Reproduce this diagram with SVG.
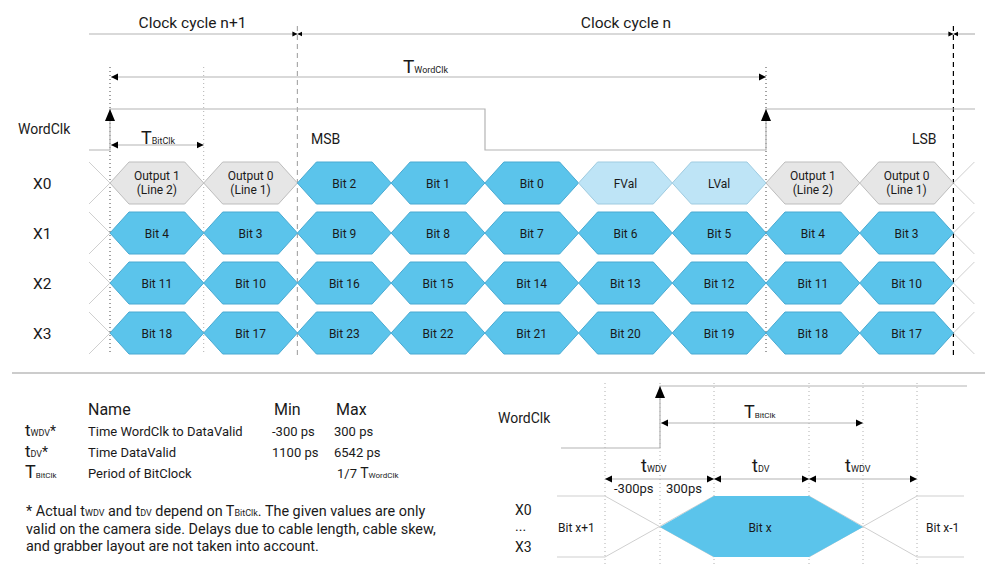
<svg xmlns="http://www.w3.org/2000/svg" width="1000" height="580" viewBox="0 0 1000 580">
<style>
text{font-family:Roboto,"Liberation Sans",sans-serif;fill:#1a1a1a}
.t15{font-size:15.5px}
.t14{font-size:14px}
.t13{font-size:13px}
.fn{font-size:14.4px}
.hl{font-size:12px;text-anchor:middle}
.mid{text-anchor:middle}
.sig{fill:none;stroke:#b4b4b4;stroke-width:1.2}
.dim{fill:none;stroke:#b4b4b4;stroke-width:1.2}
.blue{fill:#5bc4eb;stroke:#4aaad2;stroke-width:1}
.lblue{fill:#bee4f6;stroke:#9fcbe0;stroke-width:1}
.gray{fill:#e6e6e6;stroke:#bdbdbd;stroke-width:1}
.dot{fill:none;stroke:#444;stroke-width:1;stroke-dasharray:1 3}
.dotg{fill:none;stroke:#b0b0b0;stroke-width:1;stroke-dasharray:1 3}
.dash{fill:none;stroke:#000;stroke-width:1.2;stroke-dasharray:5 4}
.dashg{fill:none;stroke:#aaa;stroke-width:1.2;stroke-dasharray:5 4}
.x{stroke:#cfcfcf;fill:none;stroke-width:1}
.ar{marker-start:url(#a);marker-end:url(#a)}
</style>
<defs>
<marker id="a" viewBox="0 0 10 10" refX="10" refY="5" markerWidth="7" markerHeight="8" markerUnits="userSpaceOnUse" orient="auto-start-reverse"><path d="M0,0L10,5L0,10z" fill="#000"/></marker>
<marker id="s" viewBox="0 0 10 10" refX="10" refY="5" markerWidth="5" markerHeight="6" markerUnits="userSpaceOnUse" orient="auto-start-reverse"><path d="M0,0L10,5L0,10z" fill="#000"/></marker>
<path id="hex" d="M-46.86,0L-27.86,-21H27.86L46.86,0L27.86,21H-27.86Z"/>
</defs>

<!-- header -->
<g id="header">
<text class="t15 mid" x="192.5" y="28">Clock cycle n+1</text>
<text class="t15 mid" x="626" y="28">Clock cycle n</text>
<text x="403" y="73"><tspan font-size="19">T</tspan><tspan font-size="9">WordClk</tspan></text>
<text class="t14" x="18" y="134">WordClk</text>
<text x="141" y="144"><tspan font-size="18">T</tspan><tspan font-size="9">BitClk</tspan></text>
<text class="t14" x="311" y="144">MSB</text>
<text class="t14" x="912" y="144">LSB</text>
<text class="t15" x="33" y="189">X0</text>
<text class="t15" x="33" y="239">X1</text>
<text class="t15" x="33" y="289">X2</text>
<text class="t15" x="33" y="339">X3</text>
</g>

<!-- connectors -->
<g id="connectors">
<line x1="89" y1="34" x2="297.4" y2="34" class="dim" marker-end="url(#s)"/>
<line x1="297.4" y1="34" x2="953.4" y2="34" class="dim" marker-start="url(#s)" marker-end="url(#s)"/>
<line x1="953.4" y1="34" x2="975" y2="34" class="dim" marker-start="url(#s)"/>
<line x1="110" y1="67" x2="110" y2="355" class="dot"/>
<line x1="203.7" y1="67" x2="203.7" y2="355" class="dotg"/>
<line x1="297.4" y1="26" x2="297.4" y2="355" class="dashg"/>
<line x1="766" y1="67" x2="766" y2="355" class="dot"/>
<line x1="953.4" y1="26" x2="953.4" y2="355" class="dash"/>
<line x1="111" y1="77" x2="766" y2="77" class="dim ar"/>
<path d="M89,150H110V109H485V150H766V109H975" class="sig"/>
<path d="M110,109L105,121H115Z M766,109L761,121H771Z" fill="#000"/>
<line x1="111" y1="145" x2="203.7" y2="145" class="dim ar"/>
<path class="x" d="M89,162L110,183M89,204L110,183M953.4,183L974.4,162M953.4,183L974.4,204
M89,212L110,233M89,254L110,233M953.4,233L974.4,212M953.4,233L974.4,254
M89,262L110,283M89,304L110,283M953.4,283L974.4,262M953.4,283L974.4,304
M89,312L110,333M89,354L110,333M953.4,333L974.4,312M953.4,333L974.4,354"/>
<line x1="12" y1="373" x2="985" y2="373" stroke="#9a9a9a" stroke-width="1.2"/>
</g>

<!-- row X0 -->
<g id="x0-1"><use href="#hex" x="156.86" y="183" class="gray"/><text class="hl" x="156.86" y="180">Output 1</text><text class="hl" x="156.86" y="194">(Line 2)</text></g>
<g id="x0-2"><use href="#hex" x="250.57" y="183" class="gray"/><text class="hl" x="250.57" y="180">Output 0</text><text class="hl" x="250.57" y="194">(Line 1)</text></g>
<g id="x0-3"><use href="#hex" x="344.29" y="183" class="blue"/><text class="hl" x="344.29" y="187.5">Bit 2</text></g>
<g id="x0-4"><use href="#hex" x="438" y="183" class="blue"/><text class="hl" x="438" y="187.5">Bit 1</text></g>
<g id="x0-5"><use href="#hex" x="531.71" y="183" class="blue"/><text class="hl" x="531.71" y="187.5">Bit 0</text></g>
<g id="x0-6"><use href="#hex" x="625.43" y="183" class="lblue"/><text class="hl" x="625.43" y="187.5">FVal</text></g>
<g id="x0-7"><use href="#hex" x="719.14" y="183" class="lblue"/><text class="hl" x="719.14" y="187.5">LVal</text></g>
<g id="x0-8"><use href="#hex" x="812.86" y="183" class="gray"/><text class="hl" x="812.86" y="180">Output 1</text><text class="hl" x="812.86" y="194">(Line 2)</text></g>
<g id="x0-9"><use href="#hex" x="906.57" y="183" class="gray"/><text class="hl" x="906.57" y="180">Output 0</text><text class="hl" x="906.57" y="194">(Line 1)</text></g>

<!-- row X1 -->
<g id="x1-1"><use href="#hex" x="156.86" y="233" class="blue"/><text class="hl" x="156.86" y="237.5">Bit 4</text></g>
<g id="x1-2"><use href="#hex" x="250.57" y="233" class="blue"/><text class="hl" x="250.57" y="237.5">Bit 3</text></g>
<g id="x1-3"><use href="#hex" x="344.29" y="233" class="blue"/><text class="hl" x="344.29" y="237.5">Bit 9</text></g>
<g id="x1-4"><use href="#hex" x="438" y="233" class="blue"/><text class="hl" x="438" y="237.5">Bit 8</text></g>
<g id="x1-5"><use href="#hex" x="531.71" y="233" class="blue"/><text class="hl" x="531.71" y="237.5">Bit 7</text></g>
<g id="x1-6"><use href="#hex" x="625.43" y="233" class="blue"/><text class="hl" x="625.43" y="237.5">Bit 6</text></g>
<g id="x1-7"><use href="#hex" x="719.14" y="233" class="blue"/><text class="hl" x="719.14" y="237.5">Bit 5</text></g>
<g id="x1-8"><use href="#hex" x="812.86" y="233" class="blue"/><text class="hl" x="812.86" y="237.5">Bit 4</text></g>
<g id="x1-9"><use href="#hex" x="906.57" y="233" class="blue"/><text class="hl" x="906.57" y="237.5">Bit 3</text></g>

<!-- row X2 -->
<g id="x2-1"><use href="#hex" x="156.86" y="283" class="blue"/><text class="hl" x="156.86" y="287.5">Bit 11</text></g>
<g id="x2-2"><use href="#hex" x="250.57" y="283" class="blue"/><text class="hl" x="250.57" y="287.5">Bit 10</text></g>
<g id="x2-3"><use href="#hex" x="344.29" y="283" class="blue"/><text class="hl" x="344.29" y="287.5">Bit 16</text></g>
<g id="x2-4"><use href="#hex" x="438" y="283" class="blue"/><text class="hl" x="438" y="287.5">Bit 15</text></g>
<g id="x2-5"><use href="#hex" x="531.71" y="283" class="blue"/><text class="hl" x="531.71" y="287.5">Bit 14</text></g>
<g id="x2-6"><use href="#hex" x="625.43" y="283" class="blue"/><text class="hl" x="625.43" y="287.5">Bit 13</text></g>
<g id="x2-7"><use href="#hex" x="719.14" y="283" class="blue"/><text class="hl" x="719.14" y="287.5">Bit 12</text></g>
<g id="x2-8"><use href="#hex" x="812.86" y="283" class="blue"/><text class="hl" x="812.86" y="287.5">Bit 11</text></g>
<g id="x2-9"><use href="#hex" x="906.57" y="283" class="blue"/><text class="hl" x="906.57" y="287.5">Bit 10</text></g>

<!-- row X3 -->
<g id="x3-1"><use href="#hex" x="156.86" y="333" class="blue"/><text class="hl" x="156.86" y="337.5">Bit 18</text></g>
<g id="x3-2"><use href="#hex" x="250.57" y="333" class="blue"/><text class="hl" x="250.57" y="337.5">Bit 17</text></g>
<g id="x3-3"><use href="#hex" x="344.29" y="333" class="blue"/><text class="hl" x="344.29" y="337.5">Bit 23</text></g>
<g id="x3-4"><use href="#hex" x="438" y="333" class="blue"/><text class="hl" x="438" y="337.5">Bit 22</text></g>
<g id="x3-5"><use href="#hex" x="531.71" y="333" class="blue"/><text class="hl" x="531.71" y="337.5">Bit 21</text></g>
<g id="x3-6"><use href="#hex" x="625.43" y="333" class="blue"/><text class="hl" x="625.43" y="337.5">Bit 20</text></g>
<g id="x3-7"><use href="#hex" x="719.14" y="333" class="blue"/><text class="hl" x="719.14" y="337.5">Bit 19</text></g>
<g id="x3-8"><use href="#hex" x="812.86" y="333" class="blue"/><text class="hl" x="812.86" y="337.5">Bit 18</text></g>
<g id="x3-9"><use href="#hex" x="906.57" y="333" class="blue"/><text class="hl" x="906.57" y="337.5">Bit 17</text></g>

<!-- table -->
<g id="table">
<text x="88" y="415" font-size="16">Name</text>
<text x="274" y="415" font-size="16">Min</text>
<text x="336" y="415" font-size="16">Max</text>
<text x="25" y="436"><tspan font-size="17">t</tspan><tspan font-size="9">WDV</tspan><tspan font-size="14">*</tspan></text>
<text class="t13" x="88" y="436">Time WordClk to DataValid</text>
<text class="t13" x="272" y="436">-300 ps</text>
<text class="t13" x="334" y="436">300 ps</text>
<text x="25" y="457"><tspan font-size="17">t</tspan><tspan font-size="9">DV</tspan><tspan font-size="14">*</tspan></text>
<text class="t13" x="88" y="457">Time DataValid</text>
<text class="t13" x="272" y="457">1100 ps</text>
<text class="t13" x="334" y="457">6542 ps</text>
<text x="25" y="478"><tspan font-size="18">T</tspan><tspan font-size="8">BitClk</tspan></text>
<text class="t13" x="88" y="478">Period of BitClock</text>
<text class="t13" x="337" y="478">1/7 <tspan font-size="14">T</tspan><tspan font-size="8">WordClk</tspan></text>
<text class="fn" x="26" y="516">* Actual t<tspan font-size="9">WDV</tspan> and t<tspan font-size="9">DV</tspan> depend on T<tspan font-size="9">BitClk</tspan>. The given values are only</text>
<text class="fn" x="26" y="533.5">valid on the camera side. Delays due to cable length, cable skew,</text>
<text class="fn" x="26" y="551">and grabber layout are not taken into account.</text>
</g>

<!-- detail timing -->
<g id="detail-lines">
<line x1="605" y1="383" x2="605" y2="567" class="dotg"/>
<line x1="660" y1="383" x2="660" y2="567" class="dotg"/>
<line x1="714" y1="383" x2="714" y2="567" class="dotg"/>
<line x1="809" y1="383" x2="809" y2="567" class="dotg"/>
<line x1="863" y1="383" x2="863" y2="567" class="dotg"/>
<line x1="917" y1="383" x2="917" y2="567" class="dotg"/>
<path d="M561,448H660V386H967" class="sig"/>
<path d="M660,386L655,398H665Z" fill="#000"/>
<line x1="661" y1="423" x2="863" y2="423" class="dim ar"/>
<line x1="605" y1="479" x2="714" y2="479" class="dim ar"/>
<line x1="714" y1="479" x2="809" y2="479" class="dim ar"/>
<line x1="809" y1="479" x2="917" y2="479" class="dim ar"/>
<path class="x" d="M557,496H605L714,557M557,557H605L714,496M964,496H917L809,557M964,557H917L809,496"/>
</g>
<g id="detail-labels">
<text class="t14" x="498" y="423">WordClk</text>
<text x="744" y="418"><tspan font-size="18">T</tspan><tspan font-size="8">BitClk</tspan></text>
<text x="641" y="472"><tspan font-size="18">t</tspan><tspan font-size="9">WDV</tspan></text>
<text x="752" y="472"><tspan font-size="18">t</tspan><tspan font-size="9">DV</tspan></text>
<text x="845" y="472"><tspan font-size="18">t</tspan><tspan font-size="9">WDV</tspan></text>
<text class="t13" x="614" y="493">-300ps</text>
<text class="t13" x="666" y="493">300ps</text>
<text class="t14" x="515" y="515">X0</text>
<text class="t14" x="515" y="531">...</text>
<text class="t14" x="515" y="552">X3</text>
<text x="558" y="532" font-size="12">Bit x+1</text>
<text x="926" y="532" font-size="12">Bit x-1</text>
</g>
<g id="bit-x">
<polygon points="660,527 714,496 809,496 863,527 809,557 714,557" fill="#5bc4eb"/>
<text class="hl" x="760" y="532">Bit x</text>
</g>
</svg>
